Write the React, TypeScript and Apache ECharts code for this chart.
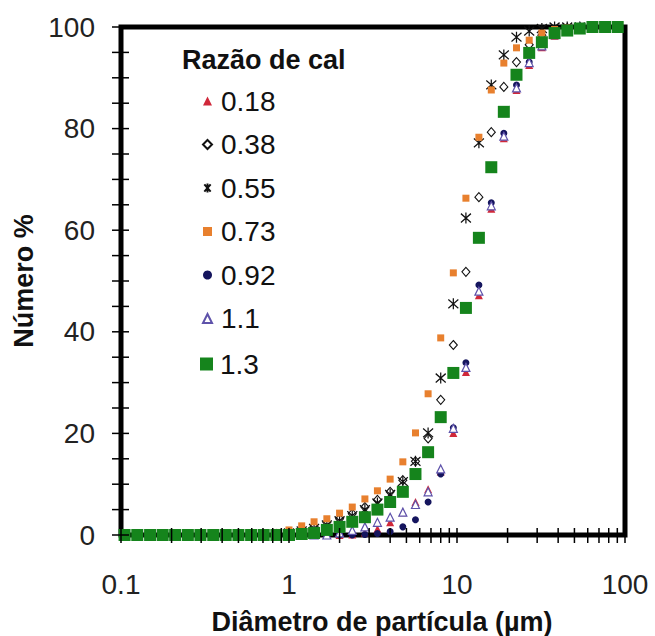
import React, { useEffect, useRef } from 'react';
import * as echarts from 'echarts';

// Particle diameter bins (µm)
const particleSizes = [0.105, 0.125, 0.149, 0.177, 0.21, 0.25, 0.297, 0.354, 0.42, 0.5, 0.595, 0.707, 0.841, 1, 1.19, 1.41, 1.68, 2, 2.38, 2.83, 3.36, 4, 4.76, 5.66, 6.73, 8, 9.51, 11.3, 13.5, 16, 19, 22.6, 26.9, 32, 38.1, 45.3, 53.8, 64, 76.1, 90.5];

// Cumulative number % per lime ratio
const ratio018 = [0, 0, 0, 0, 0, 0, 0, 0, 0, 0, 0, 0, 0, 0, 0, 0, 0, 0, 0.1, 0.5, 1.2, 2.5, 4.5, 6.5, 9, 12.5, 20.1, 32.1, 47.2, 64.2, 78.1, 87.6, 92.5, 96, 98.3, 99.5, 100, 100, 100, 100];
const ratio038 = [0, 0, 0, 0, 0, 0, 0, 0, 0, 0, 0, 0, 0.2, 0.5, 1.0, 1.7, 2.5, 3.2, 4.2, 5.5, 6.9, 8.5, 10.8, 14.5, 19, 26.6, 37.4, 51.8, 66.5, 79.3, 88.2, 93.1, 96.5, 98.4, 99.4, 99.8, 100, 100, 100, 100];
const ratio055 = [0, 0, 0, 0, 0, 0, 0, 0, 0, 0, 0, 0, 0.1, 0.4, 0.8, 1.3, 2, 2.8, 3.8, 5, 6.3, 8, 10.5, 14.5, 20.1, 30.9, 45.5, 62.4, 77.2, 88.6, 94.5, 98, 99.2, 99.7, 100, 100, 100, 100, 100, 100];
const ratio073 = [0, 0, 0, 0, 0, 0, 0, 0, 0, 0, 0.1, 0.2, 0.5, 1.0, 1.8, 2.6, 3.2, 4.3, 5.5, 7.1, 8.7, 11, 14.4, 20.1, 27.8, 38.8, 51.6, 66.3, 78.3, 87.6, 92.9, 95.9, 97.4, 98.8, 99.5, 99.8, 100, 100, 100, 100];
const ratio092 = [0, 0, 0, 0, 0, 0, 0, 0, 0, 0, 0, 0, 0, 0, 0, 0, 0, 0, 0, 0.1, 0.3, 0.7, 1.6, 3, 6.5, 12, 21.1, 33.9, 49.2, 65.4, 79.1, 88.6, 93.1, 96.5, 98.5, 99.5, 100, 100, 100, 100];
const ratio110 = [0, 0, 0, 0, 0, 0, 0, 0, 0, 0, 0, 0, 0, 0, 0, 0, 0, 0.4, 0.9, 1.6, 2.5, 3.5, 4.5, 6, 8.5, 13, 21, 33, 48, 64.8, 78.5, 88, 93, 96.3, 98.5, 99.5, 100, 100, 100, 100];
const ratio130 = [0, 0, 0, 0, 0, 0, 0, 0, 0, 0, 0, 0, 0, 0, 0.2, 0.4, 1.0, 1.6, 2.6, 3.5, 5, 6.5, 8.5, 12, 16.3, 23.2, 31.9, 44.7, 58.5, 72.4, 83.3, 90.6, 94.9, 97, 98.8, 99.3, 99.7, 100, 100, 100];

const seriesNames = ['0.18', '0.38', '0.55', '0.73', '0.92', '1.1', '1.3'];

// Axis ticks and labels
const xTickValues = [0.1, 0.2, 0.3, 0.4, 0.5, 0.6, 0.7, 0.8, 0.9, 1, 2, 3, 4, 5, 6, 7, 8, 9, 10, 20, 30, 40, 50, 60, 70, 80, 90, 100];
const xTickLabels = ['0.1', '1', '10', '100'];
const yTickValues = [0, 5, 10, 15, 20, 25, 30, 35, 40, 45, 50, 55, 60, 65, 70, 75, 80, 85, 90, 95, 100];

const FONT = 'Liberation Sans, Arial, sans-serif';
const ASTERISK = 'path://M5,0L5,10M1.5,1L8.5,9M1.5,9L8.5,1';

export default function App() {
  const ref = useRef<HTMLDivElement>(null);

  useEffect(() => {
    const chart = echarts.init(ref.current as HTMLDivElement, null, { renderer: 'svg' });
    const toPairs = (arr: number[]) => particleSizes.map((x, i) => [x, arr[i]]);

    const styles: any[] = [
      { symbol: 'triangle', symbolSize: 8, itemStyle: { color: '#d0283a', opacity: 1 } },
      { symbol: 'diamond', symbolSize: [8, 9], itemStyle: { color: '#ffffff', borderColor: '#111', borderWidth: 1.1, opacity: 1 } },
      { symbol: ASTERISK, symbolSize: [10, 11], itemStyle: { color: 'rgba(0,0,0,0)', borderColor: '#111', borderWidth: 1.3, opacity: 1 } },
      { symbol: 'rect', symbolSize: 7, itemStyle: { color: '#e8802e', opacity: 1 } },
      { symbol: 'circle', symbolSize: 7, itemStyle: { color: '#15155e', opacity: 1 } },
      { symbol: 'triangle', symbolSize: 8, itemStyle: { color: '#ffffff', borderColor: '#5e52aa', borderWidth: 1.2, opacity: 1 } },
      { symbol: 'rect', symbolSize: 12, itemStyle: { color: '#15841c', opacity: 1 } },
    ];
    const datasets = [ratio018, ratio038, ratio055, ratio073, ratio092, ratio110, ratio130];

    const scatterSeries = seriesNames.map((name, i) => ({
      name,
      type: 'scatter',
      data: toPairs(datasets[i]),
      ...styles[i],
    }));

    const option: any = {
      animation: false,
      backgroundColor: '#ffffff',
      title: {
        text: 'Razão de cal',
        left: 177,
        top: 41,
        textStyle: { fontFamily: FONT, fontSize: 27, fontWeight: 'bold', color: '#111' },
      },
      legend: [
        {
          data: seriesNames.slice(0, 6),
          orient: 'vertical',
          left: 197,
          top: 82,
          itemWidth: 9,
          itemHeight: 9,
          itemGap: 15.5,
          selectedMode: false,
          textStyle: { fontFamily: FONT, fontSize: 28, color: '#111', padding: [0, 0, 0, 4] },
        },
        {
          data: ['1.3'],
          orient: 'vertical',
          left: 195,
          top: 345,
          itemWidth: 13,
          itemHeight: 13,
          selectedMode: false,
          textStyle: { fontFamily: FONT, fontSize: 28, color: '#111', padding: [0, 0, 0, 2] },
        },
      ],
      grid: {
        left: 121,
        right: 30,
        top: 27,
        bottom: 101,
        show: true,
        borderColor: '#000',
        borderWidth: 5,
        backgroundColor: 'transparent',
        containLabel: false,
        outerBoundsMode: 'none',
      },
      xAxis: {
        type: 'log',
        logBase: 10,
        min: 0.1,
        max: 100,
        name: 'Diâmetro de partícula (µm)',
        nameLocation: 'middle',
        nameGap: 73,
        nameTextStyle: { fontFamily: FONT, fontSize: 27, fontWeight: 'bold', color: '#111', padding: [0, 0, 0, 18] },
        axisLine: { show: false },
        axisTick: { show: false },
        splitLine: { show: false },
        minorSplitLine: { show: false },
        axisLabel: {
          fontFamily: FONT,
          fontSize: 28,
          color: '#222',
          margin: 35,
          formatter: (v: number) => xTickLabels[Math.round(Math.log10(v)) + 1] ?? '',
        },
      },
      yAxis: {
        type: 'value',
        min: 0,
        max: 100,
        interval: 20,
        name: 'Número %',
        nameLocation: 'middle',
        nameGap: 82,
        nameTextStyle: { fontFamily: FONT, fontSize: 27, fontWeight: 'bold', color: '#111' },
        axisLine: { show: false },
        axisTick: { show: false },
        splitLine: { show: false },
        axisLabel: { fontFamily: FONT, fontSize: 28, color: '#222', margin: 26 },
      },
      series: [
        ...scatterSeries,
        {
          type: 'custom',
          name: 'xticks',
          silent: true,
          z: 5,
          data: xTickValues.map((v) => [v, 0]),
          renderItem: (_p: any, api: any) => {
            const pt = api.coord([api.value(0), 0]);
            return {
              type: 'line',
              shape: { x1: pt[0], y1: pt[1] - 7, x2: pt[0], y2: pt[1] + 8 },
              style: { stroke: '#000', lineWidth: 1.5 },
            };
          },
        },
        {
          type: 'custom',
          name: 'yticks',
          silent: true,
          z: 5,
          data: yTickValues.map((v) => [0.1, v]),
          renderItem: (_p: any, api: any) => {
            const pt = api.coord([0.1, api.value(1)]);
            return {
              type: 'line',
              shape: { x1: pt[0] - 9, y1: pt[1], x2: pt[0] + 8, y2: pt[1] },
              style: { stroke: '#000', lineWidth: 1.5 },
            };
          },
        },
      ],
    };

    chart.setOption(option);
    return () => chart.dispose();
  }, []);

  return (
    <div
      ref={ref}
      style={{ position: 'fixed', left: 0, top: 0, width: 655, height: 636, background: '#fff' }}
    />
  );
}
